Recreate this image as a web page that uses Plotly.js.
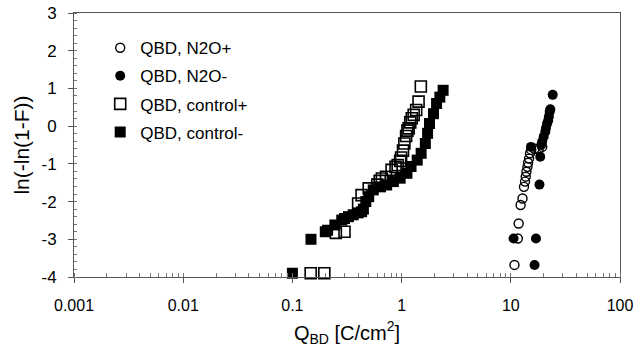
<!DOCTYPE html>
<html>
<head>
<meta charset="utf-8">
<script src="https://cdn.plot.ly/plotly-3.0.1.min.js"></script>
<style>html,body{margin:0;padding:0;background:#fff;}#chart{width:641px;height:358px;}</style>
</head>
<body>
<div id="chart"></div>
<script>
// N2O+ (open circles)
var n2oPlusX = [10.8, 11.6, 11.8, 12.3, 12.8, 13.2, 13.5, 13.7, 13.9, 14.2, 14.4, 14.7, 15.0, 15.4, 16.5, 18.0, 19.4];
var n2oPlusY = [-3.68, -2.98, -2.58, -2.09, -1.92, -1.61, -1.47, -1.34, -1.21, -1.08, -0.97, -0.86, -0.72, -0.63, -0.60, -0.63, -0.55];
// N2O- (filled circles)
var n2oMinusX = [10.6, 16.5, 17.0, 18.3, 18.6, 15.3, 19.0, 19.4, 20.0, 20.7, 21.0, 21.5, 22.0, 22.3, 22.7, 23.0, 24.2];
var n2oMinusY = [-2.98, -3.68, -2.98, -1.55, -0.81, -0.55, -0.50, -0.41, -0.28, -0.15, -0.05, 0.07, 0.15, 0.25, 0.38, 0.45, 0.83];
// control+ (open squares)
var ctrlPlusX = [0.147, 0.196, 0.25, 0.30, 0.40, 0.43, 0.50, 0.60, 0.63, 0.66, 0.72, 0.81, 0.88, 0.92, 0.97, 0.99, 1.03, 1.06, 1.10, 1.13, 1.16, 1.20, 1.24, 1.29, 1.36, 1.43, 1.50];
var ctrlPlusY = [-3.90, -3.90, -2.83, -2.80, -2.05, -1.83, -1.65, -1.55, -1.45, -1.39, -1.34, -1.16, -1.08, -1.03, -0.92, -0.83, -0.65, -0.46, -0.26, -0.12, -0.06, 0.10, 0.21, 0.30, 0.43, 0.65, 1.05];
// control- (filled squares)
var ctrlMinusX = [0.10, 0.148, 0.20, 0.21, 0.245, 0.283, 0.30, 0.326, 0.36, 0.40, 0.43, 0.447, 0.47, 0.50, 0.55, 0.64, 0.73, 0.84, 0.97, 1.12, 1.22, 1.39, 1.51, 1.65, 1.73, 1.80, 1.96, 2.09, 2.24, 2.40];
var ctrlMinusY = [-3.90, -3.00, -2.80, -2.76, -2.62, -2.49, -2.45, -2.40, -2.35, -2.30, -2.27, -2.20, -2.00, -1.87, -1.69, -1.61, -1.56, -1.47, -1.38, -1.25, -1.07, -0.90, -0.72, -0.46, -0.19, 0.07, 0.33, 0.60, 0.77, 0.95];

var seriesNames = ['QBD, N2O+', 'QBD, N2O-', 'QBD, control+', 'QBD, control-'];
var xTickVals = [0.001, 0.01, 0.1, 1, 10, 100];
var xTickText = ['0.001', '0.01', '0.1', '1', '10', '100'];
var yTickVals = [-4, -3, -2, -1, 0, 1, 2, 3];
var yTickText = ['-4', '-3', '-2', '-1', '0', '1', '2', '3'];

var FONT = 'Liberation Sans, Arial, Helvetica, sans-serif';

var traces = [
  {x: n2oPlusX, y: n2oPlusY, name: seriesNames[0], legendgroup: 'a', mode: 'markers', type: 'scatter', cliponaxis: false,
   marker: {symbol: 'circle-open', size: 9, color: '#000', line: {width: 1.4, color: '#000'}}},
  {x: n2oMinusX, y: n2oMinusY, name: seriesNames[1], legendgroup: 'b', mode: 'markers', type: 'scatter', cliponaxis: false,
   marker: {symbol: 'circle', size: 10, color: '#000'}},
  {x: ctrlPlusX, y: ctrlPlusY, name: seriesNames[2], legendgroup: 'c', mode: 'markers', type: 'scatter', cliponaxis: false,
   marker: {symbol: 'square-open', size: 11, color: '#000', line: {width: 1.6, color: '#000'}}},
  {x: ctrlMinusX, y: ctrlMinusY, name: seriesNames[3], legendgroup: 'd', mode: 'markers', type: 'scatter', cliponaxis: false,
   marker: {symbol: 'square', size: 11, color: '#000'}}
];

var layout = {
  width: 641, height: 358,
  margin: {l: 74, r: 21, t: 13, b: 81},
  paper_bgcolor: '#fff', plot_bgcolor: '#fff',
  font: {family: FONT, color: '#000', size: 16},
  showlegend: true,
  legend: {x: 0.048, y: 0.935, xanchor: 'left', yanchor: 'top', bgcolor: 'rgba(0,0,0,0)',
           font: {family: FONT, size: 17, color: '#000'}, traceorder: 'grouped', tracegroupgap: 3, itemwidth: 30},
  xaxis: {
    type: 'log', range: [-3, 2], tickmode: 'array', tickvals: xTickVals, ticktext: xTickText,
    showgrid: false, zeroline: false, showline: true, linecolor: '#555', linewidth: 1, mirror: true,
    ticks: 'outside', ticklen: 5, tickcolor: '#555', tickfont: {size: 16}, ticklabelstandoff: 9,
    minor: {ticks: 'inside', ticklen: 4, tickcolor: '#777', dtick: 'D1', showgrid: false},
    title: {text: 'Q<sub>BD</sub> [C/cm<sup>2</sup>]', font: {size: 20}, standoff: 12}
  },
  yaxis: {
    range: [-4, 3], tickmode: 'array', tickvals: yTickVals, ticktext: yTickText,
    showgrid: false, zeroline: false, showline: true, linecolor: '#555', linewidth: 1, mirror: true,
    ticks: 'outside', ticklen: 5, tickcolor: '#555', tickfont: {size: 17}, ticklabelstandoff: 8,
    minor: {ticks: 'inside', ticklen: 3, tickcolor: '#777', dtick: 0.2, tick0: 0, showgrid: false},
    title: {text: 'ln(-ln(1-F))', font: {size: 21}, standoff: 6}
  }
};

Plotly.newPlot('chart', traces, layout, {staticPlot: true, displayModeBar: false});
</script>
</body>
</html>
